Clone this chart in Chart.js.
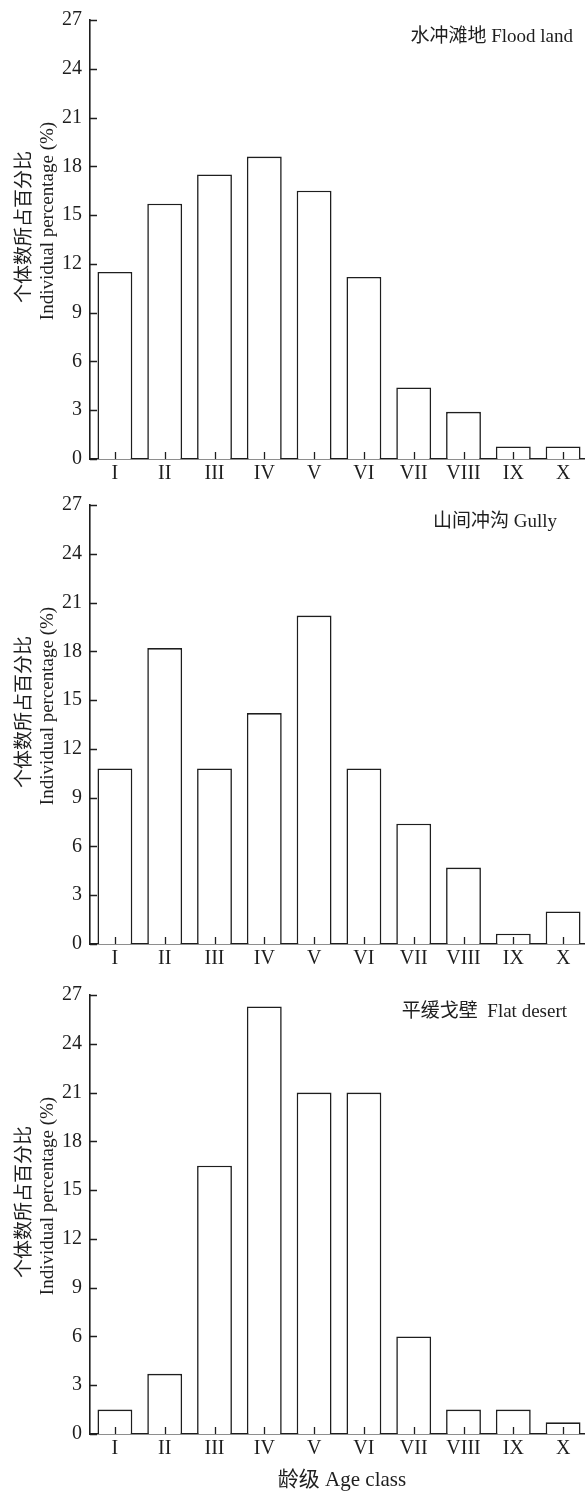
<!DOCTYPE html>
<html>
<head>
<meta charset="utf-8">
<script src="https://cdn.jsdelivr.net/npm/chart.js@4.4.0/dist/chart.umd.min.js"></script>
<style>
  html, body { margin: 0; padding: 0; background: #fff; overflow: hidden; width: 585px; height: 1493px; }
  canvas { position: absolute; left: 0; }
</style>
</head>
<body>
<canvas id="c0" width="590" height="485" style="top:0px"></canvas>
<canvas id="c1" width="590" height="490" style="top:485px"></canvas>
<canvas id="c2" width="590" height="518" style="top:975px"></canvas>
<script>
const ageClasses = ['I', 'II', 'III', 'IV', 'V', 'VI', 'VII', 'VIII', 'IX', 'X'];
const floodLand = [11.5, 15.7, 17.5, 18.6, 16.5, 11.2, 4.4, 2.9, 0.77, 0.77];
const gully = [10.8, 18.2, 10.8, 14.2, 20.2, 10.8, 7.4, 4.7, 0.63, 2.0];
const flatDesert = [1.5, 3.7, 16.5, 26.3, 21.0, 21.0, 6.0, 1.5, 1.5, 0.72];
const yTicks = [0, 3, 6, 9, 12, 15, 18, 21, 24, 27];
const panelTitles = ['水冲滩地 Flood land', '山间冲沟 Gully', '平缓戈壁  Flat desert'];
const yTitleZh = '个体数所占百分比';
const yTitleEn = 'Individual percentage (%)';
const xTitle = '龄级 Age class';

const FONT = '"Liberation Serif", "Times New Roman", "Noto Sans CJK SC", serif';
const INK = '#1e1e1e';

// inward tick marks + the text around each panel
const deco = {
  id: 'deco',
  afterDraw(chart, args, opts) {
    const { ctx, chartArea: a, scales: { x, y } } = chart;
    ctx.save();
    ctx.strokeStyle = INK;
    ctx.lineWidth = 1.3;
    ctx.beginPath();
    y.ticks.forEach(t => {
      const py = Math.round(y.getPixelForValue(t.value)) + 0.5;
      ctx.moveTo(a.left, py);
      ctx.lineTo(a.left + 7, py);
    });
    x.ticks.forEach((t, i) => {
      const px = Math.round(x.getPixelForTick(i)) + 0.5;
      ctx.moveTo(px, a.bottom);
      ctx.lineTo(px, a.bottom - 7);
    });
    ctx.stroke();

    ctx.fillStyle = INK;
    ctx.textBaseline = 'middle';
    ctx.font = '19px ' + FONT;
    ctx.textAlign = 'right';
    ctx.fillText(opts.title, opts.titleRight, 37);

    ctx.textAlign = 'center';
    ctx.save();
    ctx.translate(25, 227);
    ctx.rotate(-Math.PI / 2);
    ctx.font = '19px ' + FONT;
    ctx.fillText(yTitleZh, 0, 0);
    ctx.restore();
    ctx.save();
    ctx.translate(48, 221);
    ctx.rotate(-Math.PI / 2);
    ctx.font = '19px ' + FONT;
    ctx.fillText(yTitleEn, 0, 0);
    ctx.restore();

    if (opts.xTitle) {
      ctx.font = '21px ' + FONT;
      ctx.fillText(opts.xTitle, 342, 505);
    }
    ctx.restore();
  }
};

function makeChart(id, values, title, titleRight, showXTitle) {
  const canvas = document.getElementById(id);
  const h = canvas.height;
  return new Chart(canvas, {
    type: 'bar',
    data: {
      labels: ageClasses,
      datasets: [{
        data: values,
        backgroundColor: '#ffffff',
        borderColor: INK,
        borderWidth: 1.6,
        barPercentage: 0.7,
        categoryPercentage: 1.0
      }]
    },
    options: {
      responsive: false,
      animation: false,
      layout: { padding: { top: 16, left: 0, right: 2, bottom: 0 } },
      plugins: {
        legend: { display: false },
        tooltip: { enabled: false },
        deco: { title: title, titleRight: titleRight, xTitle: showXTitle ? xTitle : null }
      },
      scales: {
        x: {
          z: 1,
          grid: { display: false, drawTicks: false },
          border: { display: true, color: INK, width: 1.6 },
          ticks: { color: INK, font: { family: FONT, size: 20 }, padding: 3, maxRotation: 0, autoSkip: false },
          afterFit: s => { s.height = h - 459; }
        },
        y: {
          min: 0,
          max: 27,
          grid: { display: false, drawTicks: false },
          border: { display: true, color: INK, width: 1.6 },
          ticks: { color: INK, font: { family: FONT, size: 20 }, padding: 8 },
          afterBuildTicks: s => { s.ticks = yTicks.map(v => ({ value: v })); },
          afterFit: s => { s.width = 90; }
        }
      }
    },
    plugins: [deco]
  });
}

makeChart('c0', floodLand, panelTitles[0], 573, false);
makeChart('c1', gully, panelTitles[1], 557, false);
makeChart('c2', flatDesert, panelTitles[2], 567, true);
</script>
</body>
</html>
